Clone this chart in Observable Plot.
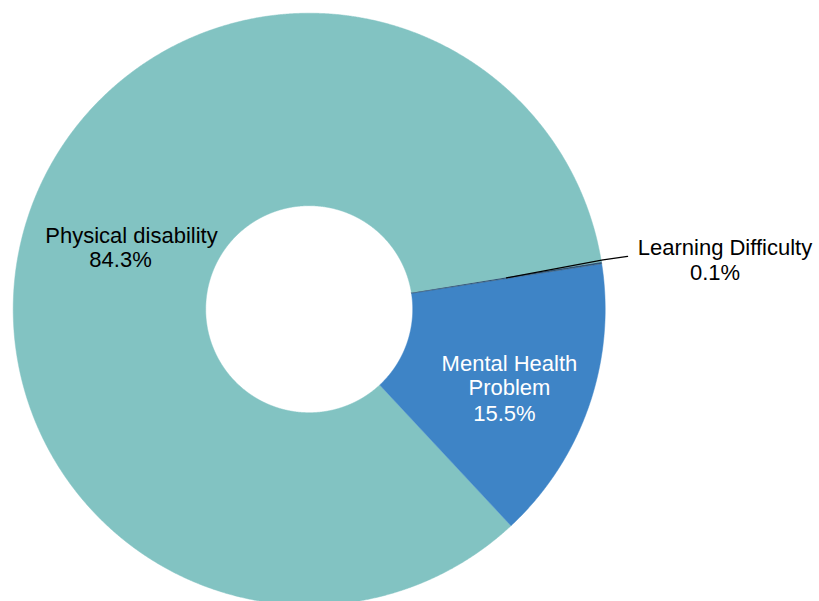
<!DOCTYPE html>
<html>
<head>
<meta charset="utf-8">
<script src="https://cdn.jsdelivr.net/npm/d3@7"></script>
<script src="https://cdn.jsdelivr.net/npm/@observablehq/plot@0.6"></script>
<style>
  html, body { margin: 0; padding: 0; background: #ffffff; }
  #chart svg { display: block; background: #ffffff; }
</style>
</head>
<body>
<div id="chart"></div>
<script>
// ---- data ----
const categories = ["Learning Difficulty", "Mental Health Problem", "Physical disability"];
const values = [0.1, 15.5, 84.3];
const nameLabels = ["Learning Difficulty", "Mental Health\nProblem", "Physical disability"];
const pctLabels = ["0.1%", "15.5%", "84.3%"];

// ---- styles / layout ----
const colors = ["#2f5577", "#3e84c6", "#82c3c2"];
const textColors = ["#000000", "#ffffff", "#000000"];
const W = 819, H = 601;
const cx = 308.7, cy = 308.7, rOuter = 296, rInner = 103.5;
const startDeg = 80.8;
// label nudges relative to slice centroid (layout only)
const nameNudge = [[218.5, -31.1], [11.5, 1.0], [11.3, -9.3]];
const pctNudge = [[208.5, -6.1], [6.5, 38.3], [0.3, 14.8]];

const rows = categories.map((c, i) => ({key: c, value: values[i], name: nameLabels[i], pct: pctLabels[i], i}));
const start = startDeg * Math.PI / 180;
const arcs = d3.pie().sort(null).value(d => d.value).startAngle(start).endAngle(start + 2 * Math.PI)(rows);

const pt = (r, a) => ({x: cx + r * Math.sin(a), y: cy - r * Math.cos(a)});

// polygon points per slice (outer arc forward, inner arc back)
const slicePts = [];
for (const a of arcs) {
  const span = a.endAngle - a.startAngle;
  const n = Math.max(2, Math.ceil(span / (0.2 * Math.PI / 180)) + 1);
  for (let k = 0; k < n; k++) {
    const t = a.startAngle + span * k / (n - 1);
    slicePts.push({key: a.data.key, order: a.data.i, ...pt(rOuter, t)});
  }
  for (let k = n - 1; k >= 0; k--) {
    const t = a.startAngle + span * k / (n - 1);
    slicePts.push({key: a.data.key, order: a.data.i, ...pt(rInner, t)});
  }
}
// draw largest first
const drawOrder = [2, 1, 0];
const sortedPts = drawOrder.flatMap(o => slicePts.filter(p => p.order === o));

const rMid = (rOuter + rInner) / 2;
const labelRows = arcs.map(a => {
  const mid = (a.startAngle + a.endAngle) / 2;
  const c = pt(rMid, mid);
  const i = a.data.i;
  return {
    key: a.data.key, name: a.data.name, pct: a.data.pct, color: textColors[i],
    nx: c.x + nameNudge[i][0], ny: c.y + nameNudge[i][1],
    px: c.x + pctNudge[i][0], py: c.y + pctNudge[i][1]
  };
});

// leader line for the tiny slice
const small = arcs[0];
const smid = (small.startAngle + small.endAngle) / 2;
const lc = pt(rMid, smid);
const le = pt(rOuter + 2, smid - 0.5 * Math.PI / 180);
const leader = [lc, le, {x: le.x + 24.5, y: le.y - 3.5}];

const chart = Plot.plot({
  width: W,
  height: H,
  margin: 0,
  x: {domain: [0, W], range: [0, W], axis: null},
  y: {domain: [0, H], range: [0, H], axis: null},
  color: {domain: categories, range: colors},
  style: {fontFamily: "'Liberation Sans', Arial, sans-serif", background: "#ffffff"},
  marks: [
    Plot.line(sortedPts, {x: "x", y: "y", z: "key", fill: "key", stroke: "key", strokeWidth: 0.5, curve: "linear"}),
    Plot.line(leader, {x: "x", y: "y", stroke: "#000000", strokeWidth: 1.2, curve: "linear"}),
    Plot.text(labelRows, {x: "nx", y: "ny", text: "name", fill: "color", fontSize: 22, lineHeight: 1.1, textAnchor: "middle", lineAnchor: "middle"}),
    Plot.text(labelRows, {x: "px", y: "py", text: "pct", fill: "color", fontSize: 22, lineHeight: 1.1, textAnchor: "middle", lineAnchor: "middle"})
  ]
});
document.getElementById("chart").appendChild(chart);
</script>
</body>
</html>
